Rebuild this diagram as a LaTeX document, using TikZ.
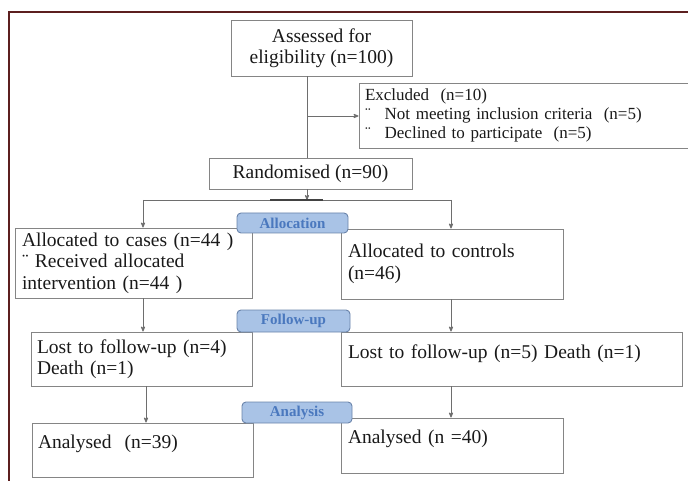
\documentclass[tikz,border=0pt]{standalone}
\usepackage{fontspec}
\setmainfont{Liberation Serif}
\usetikzlibrary{arrows}
\usepackage{xcolor}

\definecolor{framered}{HTML}{5C1F1F}
\definecolor{boxgray}{HTML}{858585}
\definecolor{linegray}{HTML}{6E6E6E}
\definecolor{tabfill}{HTML}{A9C3E6}
\definecolor{tabline}{HTML}{6A84AA}
\definecolor{tabtext}{HTML}{4A78BE}

\tikzset{
 box/.style={draw=boxgray, line width=0.9pt, rectangle, inner xsep=7pt, inner ysep=0pt, text=black!90, font=\fontsize{19.5}{21.5}\selectfont},
 tab/.style={draw=tabline, fill=tabfill, rounded corners=4pt, line width=0.9pt, inner sep=0pt, text=tabtext, font=\fontsize{15}{15}\selectfont\bfseries},
 link/.style={draw=linegray, line width=0.8pt, >=stealth'}
}

\begin{document}
\begin{tikzpicture}[x=1pt,y=-1pt]
\useasboundingbox (0,0) rectangle (688,481);
\draw[framered, line width=1.3pt] (9,481) -- (9,12) -- (688,12);

% boxes
\node[box, align=center, minimum width=181, minimum height=56] (assess) at (321.5,48) {Assessed for\\eligibility (n=100)};
\node[box, align=left, inner xsep=6pt, text width=317, minimum height=65, font=\fontsize{17}{19}\selectfont] (excl) at (523.5,115.5)
 {Excluded~ (n=10)\\ ¨\hspace{14pt}Not meeting inclusion criteria~ (n=5)\\ ¨\hspace{14pt}Declined to participate~ (n=5)};
\node[box, minimum width=203, minimum height=31] (rand) at (310.5,173.5) {Randomised (n=90)};
\node[box, align=left, text width=223, minimum height=70] (allocL) at (133.5,263)
 {Allocated to cases (n=44 )\\ ¨ Received allocated\\ intervention (n=44 )};
\node[box, align=left, text width=208, minimum height=70] (allocR) at (452,264) {Allocated to controls\\(n=46)};
\node[box, align=left, inner xsep=6pt, text width=209, minimum height=54] (fuL) at (141.5,359) {Lost to follow-up (n=4)\\Death (n=1)};
\node[box, align=left, text width=327, text height=26, text depth=28] (fuR) at (511.5,359) {Lost to follow-up (n=5) Death (n=1)};
\node[box, align=left, inner xsep=6pt, text width=209, text height=25, text depth=29] (anL) at (142.5,450) {Analysed~ (n=39)};
\node[box, align=left, text width=208, text height=25, text depth=30] (anR) at (452,445.5) {Analysed (n =40)};

% connectors
\coordinate (trunk) at (307,116);
\coordinate (split) at (307,200);
\coordinate (splitL) at (143,200);
\coordinate (splitR) at (451,200);
\coordinate (downL) at (146,400);
\draw[link] (assess.south -| trunk) -- (rand.north -| trunk);
\draw[link,->] (trunk) -- (trunk -| excl.west);
\draw[link,->] (rand.south -| split) -- (split);
\draw[link] (splitL) -- (splitR);
\draw[linegray!60!black, line width=1.5pt] (270,200) -- (323,200);
\draw[link,->] (splitL) -- (splitL |- allocL.north);
\draw[link,->] (splitR) -- (splitR |- allocR.north);
\draw[link,->] (allocL.south -| splitL) -- (splitL |- fuL.north);
\draw[link,->] (allocR.south -| splitR) -- (splitR |- fuR.north);
\draw[link,->] (fuL.south -| downL) -- (downL |- anL.north);
\draw[link,->] (fuR.south -| splitR) -- (splitR |- anR.north);

% stage tabs
\node[tab, minimum width=111, minimum height=20] (tabAlloc) at (292.5,223) {Allocation};
\node[tab, minimum width=113, minimum height=22] (tabFollow) at (293.5,321) {Follow-up};
\node[tab, minimum width=110, minimum height=21] (tabAnalysis) at (297,412.5) {Analysis};
\end{tikzpicture}
\end{document}
